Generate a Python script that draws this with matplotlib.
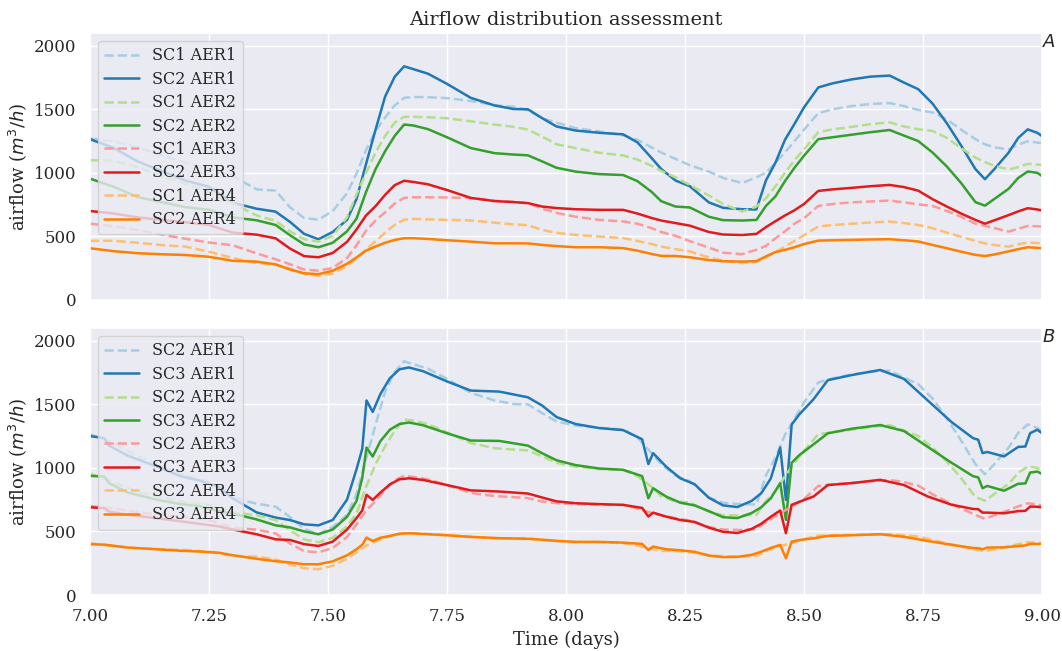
import matplotlib

matplotlib.use("Agg")
import matplotlib.pyplot as plt
import seaborn as sns

# time grid shared by SC1 / SC2 series (days)
t_sc12 = [7.00, 7.05, 7.10, 7.15, 7.20, 7.25, 7.30, 7.35,
          7.39, 7.42, 7.45, 7.48, 7.51, 7.54, 7.56, 7.58,
          7.60, 7.62, 7.64, 7.66, 7.68, 7.71, 7.75, 7.80,
          7.85, 7.89, 7.92, 7.95, 7.98, 8.02, 8.07, 8.12,
          8.15, 8.18, 8.20, 8.23, 8.26, 8.30, 8.33, 8.37,
          8.40, 8.42, 8.44, 8.46, 8.48, 8.50, 8.53, 8.56,
          8.60, 8.64, 8.68, 8.71, 8.74, 8.77, 8.80, 8.83,
          8.86, 8.88, 8.90, 8.93, 8.95, 8.97, 8.99, 9.00]

# time grid of SC3 series (days)
t_sc3 = [7.00, 7.03, 7.04, 7.08, 7.14, 7.19, 7.23, 7.27,
         7.30, 7.35, 7.39, 7.42, 7.45, 7.48, 7.51, 7.54,
         7.56, 7.572, 7.581, 7.594, 7.61, 7.63, 7.65, 7.67,
         7.70, 7.75, 7.80, 7.86, 7.92, 7.95, 7.98, 8.02,
         8.07, 8.12, 8.16, 8.173, 8.183, 8.21, 8.24, 8.27,
         8.30, 8.33, 8.36, 8.39, 8.41, 8.43, 8.45, 8.462,
         8.474, 8.49, 8.52, 8.55, 8.60, 8.66, 8.71, 8.76,
         8.81, 8.855, 8.866, 8.875, 8.885, 8.92, 8.95, 8.965,
         8.975, 8.99, 9.00]

sc1_aer1 = [1270, 1250, 1200, 1140, 1080, 1030, 975, 870,
            860, 730, 645, 632, 700, 840, 995, 1180,
            1330, 1435, 1530, 1590, 1597, 1595, 1588, 1565,
            1533, 1520, 1492, 1430, 1395, 1352, 1326, 1295,
            1260, 1200, 1160, 1110, 1060, 1010, 960, 920,
            965, 1000, 1080, 1160, 1250, 1340, 1470, 1500,
            1525, 1542, 1549, 1525, 1495, 1475, 1420, 1340,
            1265, 1225, 1200, 1185, 1223, 1248, 1238, 1234]
sc1_aer2 = [1100, 1095, 1045, 975, 915, 850, 760, 665,
            622, 540, 478, 459, 505, 650, 830, 1000,
            1160, 1290, 1395, 1440, 1441, 1437, 1430, 1405,
            1380, 1362, 1340, 1285, 1225, 1195, 1158, 1137,
            1105, 1055, 1015, 965, 905, 822, 755, 696,
            735, 800, 895, 1000, 1100, 1185, 1320, 1342,
            1362, 1383, 1397, 1365, 1343, 1330, 1275, 1195,
            1120, 1085, 1055, 1027, 1045, 1071, 1065, 1063]
sc1_aer3 = [600, 580, 550, 515, 482, 452, 430, 367,
            320, 282, 239, 231, 252, 330, 430, 545,
            625, 690, 758, 803, 808, 808, 806, 802,
            780, 772, 761, 718, 685, 655, 630, 618,
            600, 565, 535, 505, 463, 412, 372, 360,
            395, 425, 485, 540, 600, 643, 740, 755,
            768, 775, 782, 768, 752, 740, 700, 655,
            600, 583, 565, 538, 560, 582, 580, 578]
sc1_aer4 = [465, 466, 450, 432, 420, 380, 330, 291,
            278, 248, 205, 190, 208, 266, 326, 396,
            462, 530, 590, 632, 638, 634, 630, 626,
            608, 595, 588, 551, 528, 512, 499, 487,
            465, 440, 420, 400, 382, 335, 310, 290,
            300, 335, 375, 420, 465, 510, 578, 590,
            600, 610, 617, 605, 590, 565, 530, 497,
            465, 445, 432, 420, 438, 452, 448, 446]

sc2_aer1 = [1265, 1195, 1090, 1015, 940, 890, 765, 718,
            695, 615, 520, 478, 535, 630, 795, 1070,
            1340, 1600, 1755, 1838, 1815, 1780, 1700, 1590,
            1530, 1502, 1500, 1430, 1365, 1333, 1315, 1303,
            1240, 1116, 1030, 940, 895, 768, 725, 714,
            712, 940, 1080, 1260, 1385, 1515, 1672, 1704,
            1735, 1757, 1765, 1710, 1658, 1545, 1390, 1215,
            1030, 950, 1030, 1160, 1275, 1342, 1315, 1290]
sc2_aer2 = [955, 890, 810, 770, 730, 710, 650, 627,
            590, 510, 437, 415, 450, 540, 640, 850,
            1030, 1170, 1290, 1380, 1372, 1344, 1280, 1195,
            1155, 1144, 1138, 1090, 1040, 1010, 990, 983,
            935, 850, 777, 735, 728, 655, 628, 625,
            630, 740, 815, 935, 1040, 1135, 1265, 1280,
            1300, 1320, 1337, 1293, 1250, 1160, 1050, 920,
            770, 742, 795, 875, 960, 1011, 1000, 976]
sc2_aer3 = [700, 680, 650, 630, 612, 590, 530, 514,
            485, 405, 345, 336, 370, 457, 555, 665,
            738, 827, 903, 938, 928, 910, 865, 803,
            778, 770, 762, 735, 723, 714, 709, 709,
            680, 645, 625, 605, 585, 535, 515, 511,
            520, 573, 620, 665, 706, 755, 858, 870,
            882, 895, 905, 888, 860, 793, 735, 680,
            630, 600, 627, 668, 697, 722, 712, 704]
sc2_aer4 = [407, 384, 368, 360, 354, 340, 308, 302,
            280, 240, 210, 203, 230, 285, 335, 388,
            421, 450, 472, 486, 486, 480, 470, 459,
            446, 446, 445, 433, 424, 415, 415, 408,
            388, 362, 347, 346, 336, 314, 305, 302,
            306, 343, 377, 394, 415, 440, 467, 470,
            473, 476, 478, 470, 460, 433, 407, 380,
            355, 346, 358, 383, 400, 415, 410, 407]

sc3_aer1 = [1250, 1234, 1175, 1095, 1011, 935, 900, 850,
            760, 650, 609, 590, 556, 548, 590, 750,
            990, 1150, 1530, 1440, 1580, 1705, 1775, 1790,
            1760, 1680, 1608, 1600, 1555, 1490, 1400, 1345,
            1313, 1297, 1225, 1030, 1116, 1011, 918, 872,
            765, 705, 692, 740, 800, 915, 1160, 748,
            1340, 1420, 1540, 1690, 1730, 1770, 1700, 1530,
            1360, 1234, 1221, 1116, 1125, 1090, 1165, 1168,
            1273, 1300, 1273]
sc3_aer2 = [937, 932, 880, 805, 750, 715, 700, 660,
            640, 595, 548, 532, 500, 478, 515, 615,
            740, 920, 1160, 1089, 1210, 1300, 1345, 1357,
            1335, 1272, 1215, 1212, 1175, 1115, 1060, 1022,
            995, 985, 935, 761, 840, 775, 726, 705,
            660, 612, 605, 645, 690, 760, 880, 591,
            1040, 1100, 1185, 1272, 1308, 1337, 1290, 1165,
            1040, 935, 925, 840, 858, 820, 875, 878,
            963, 971, 953]
sc3_aer3 = [690, 683, 656, 630, 604, 580, 560, 540,
            515, 478, 438, 433, 400, 386, 420, 515,
            605, 665, 788, 748, 805, 870, 910, 918,
            905, 865, 823, 814, 798, 767, 737, 722,
            715, 709, 685, 617, 648, 617, 590, 575,
            530, 497, 488, 520, 560, 615, 665, 486,
            709, 733, 775, 865, 880, 906, 865, 775,
            710, 677, 675, 648, 648, 643, 660, 662,
            696, 694, 690]
sc3_aer4 = [400, 396, 392, 373, 360, 348, 342, 333,
            313, 285, 266, 256, 242, 242, 265, 312,
            360, 395, 452, 425, 450, 465, 482, 486,
            480, 470, 457, 447, 442, 435, 426, 418,
            418, 412, 402, 354, 381, 360, 352, 340,
            310, 298, 300, 316, 340, 370, 394, 289,
            420, 432, 446, 465, 470, 478, 458, 425,
            395, 370, 368, 360, 373, 375, 385, 390,
            402, 402, 402]

x_ticks = [7.00, 7.25, 7.50, 7.75, 8.00, 8.25, 8.50, 8.75, 9.00]
y_ticks = [0, 500, 1000, 1500, 2000]


def draw_panel(ax, t_ref, ref_series, ref_name, t_new, new_series, new_name, tag):
    """Dashed light line for the reference scenario, solid dark one for the other."""
    colors = plt.cm.Paired.colors
    for i, (ref, new) in enumerate(zip(ref_series, new_series)):
        ax.plot(t_ref, ref, linestyle="--", color=colors[2 * i], lw=1.8,
                label=f"{ref_name} AER{i + 1}")
        ax.plot(t_new, new, linestyle="-", color=colors[2 * i + 1], lw=1.8,
                label=f"{new_name} AER{i + 1}")

    ax.set_xlim(7, 9)
    ax.set_ylim(0, 2100)
    ax.set_xticks(x_ticks)
    ax.set_yticks(y_ticks)
    ax.tick_params(labelsize=12)
    ax.set_ylabel("airflow ($m^3/h$)", fontsize=13)
    ax.legend(loc="upper left", fontsize=11.5, handlelength=2.2, labelspacing=0.4)
    ax.text(1.0, 1.0, f"${tag}$", transform=ax.transAxes, ha="left", va="top",
            fontsize=13, color="#262626")


sns.set_theme(style="darkgrid", font="serif")

fig, (ax_a, ax_b) = plt.subplots(2, 1, sharex=True, figsize=(10.62, 6.51), dpi=100)
fig.subplots_adjust(left=0.0847, right=0.9812, top=0.9493, bottom=0.086, hspace=0.105)

draw_panel(ax_a, t_sc12, [sc1_aer1, sc1_aer2, sc1_aer3, sc1_aer4], "SC1",
           t_sc12, [sc2_aer1, sc2_aer2, sc2_aer3, sc2_aer4], "SC2", "A")
draw_panel(ax_b, t_sc12, [sc2_aer1, sc2_aer2, sc2_aer3, sc2_aer4], "SC2",
           t_sc3, [sc3_aer1, sc3_aer2, sc3_aer3, sc3_aer4], "SC3", "B")

ax_a.set_title("Airflow distribution assessment", fontsize=14)
ax_b.set_xlabel("Time (days)", fontsize=13)

fig.savefig("out.png", dpi=100)
